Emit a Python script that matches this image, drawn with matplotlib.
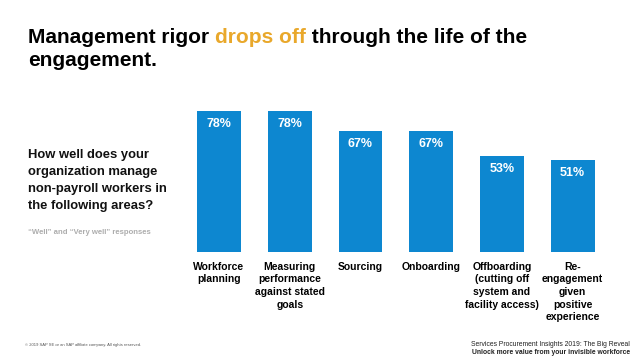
import matplotlib
matplotlib.use("Agg")
import matplotlib.pyplot as plt

plt.rcParams['font.family'] = ['Liberation Sans', 'DejaVu Sans']

# ------------------------------------------------------------
# DATA
# ------------------------------------------------------------
categories = [
    "Workforce\nplanning",
    "Measuring\nperformance\nagainst stated\ngoals",
    "Sourcing",
    "Onboarding",
    "Offboarding\n(cutting off\nsystem and\nfacility access)",
    "Re-\nengagement\ngiven\npositive\nexperience",
]
values = [78, 78, 67, 67, 53, 51]

BLUE = "#0D87D0"
GOLD = "#E9A82B"

W, H = 638, 359
fig = plt.figure(figsize=(W / 100, H / 100), dpi=100)
fig.patch.set_facecolor("white")

# axes placed in pixel terms: x 183.6..608, baseline y=252, 1.81 px per %
ax_left, ax_right = 183.6, 608.0
ax_bottom_px = 252
ymax = 80
ax_top_px = ax_bottom_px - ymax * 1.81
ax = fig.add_axes([ax_left / W, 1 - ax_bottom_px / H,
                   (ax_right - ax_left) / W, (ax_bottom_px - ax_top_px) / H])

x = list(range(len(values)))
ax.bar(x, values, width=0.62, color=BLUE)
ax.set_xlim(-0.5, len(values) - 0.5)
ax.set_ylim(0, ymax)

for i, v in zip(x, values):
    ax.annotate(f"{v}%", (i, v), xytext=(0, -5), textcoords="offset points",
                ha="center", va="top", color="white", fontsize=9,
                fontweight="bold")

ax.set_xticks(x)
ax.set_xticklabels(categories, fontsize=7.5, fontweight="bold",
                   multialignment="center", linespacing=1.33)
ax.tick_params(axis="x", length=0, pad=7)
ax.set_yticks([])
for s in ax.spines.values():
    s.set_visible(False)

# ------------------------------------------------------------
# TITLE (two colours)
# ------------------------------------------------------------
renderer = fig.canvas.get_renderer()
title_kw = dict(fontsize=15, fontweight="bold", va="baseline",
                transform=None)
px, py = 28, H - 43
parts = [("Management rigor ", "black"), ("drops off", GOLD),
         (" through the life of the", "black")]
for txt, col in parts:
    t = fig.text(px, py, txt, color=col, **title_kw)
    px = t.get_window_extent(renderer).x1
fig.text(28, H - 66, "engagement.", color="black", **title_kw)

# ------------------------------------------------------------
# SIDE TEXT
# ------------------------------------------------------------
fig.text(28 / W, 1 - 149 / H,
         "How well does your\norganization manage\nnon-payroll workers in\nthe following areas?",
         fontsize=9.4, fontweight="bold", va="top", ha="left",
         linespacing=1.55, color="#111111")
fig.text(28 / W, 1 - 232 / H, "\u201cWell\u201d and \u201cVery well\u201d responses",
         fontsize=5.6, fontweight="bold", color="#adadad", va="center")

# ------------------------------------------------------------
# FOOTER
# ------------------------------------------------------------
fig.text(25 / W, 1 - 345 / H,
         "\u00a9 2019 SAP SE or an SAP affiliate company. All rights reserved.",
         fontsize=3.0, color="#555555", va="center")
fig.text(630 / W, 1 - 345 / H,
         "Services Procurement Insights 2019: The Big Reveal",
         fontsize=4.9, color="#222222", ha="right", va="center")
fig.text(630 / W, 1 - 352 / H,
         "Unlock more value from your invisible workforce",
         fontsize=4.9, fontweight="bold", color="#222222", ha="right",
         va="center")

fig.savefig("out.png", dpi=100)
